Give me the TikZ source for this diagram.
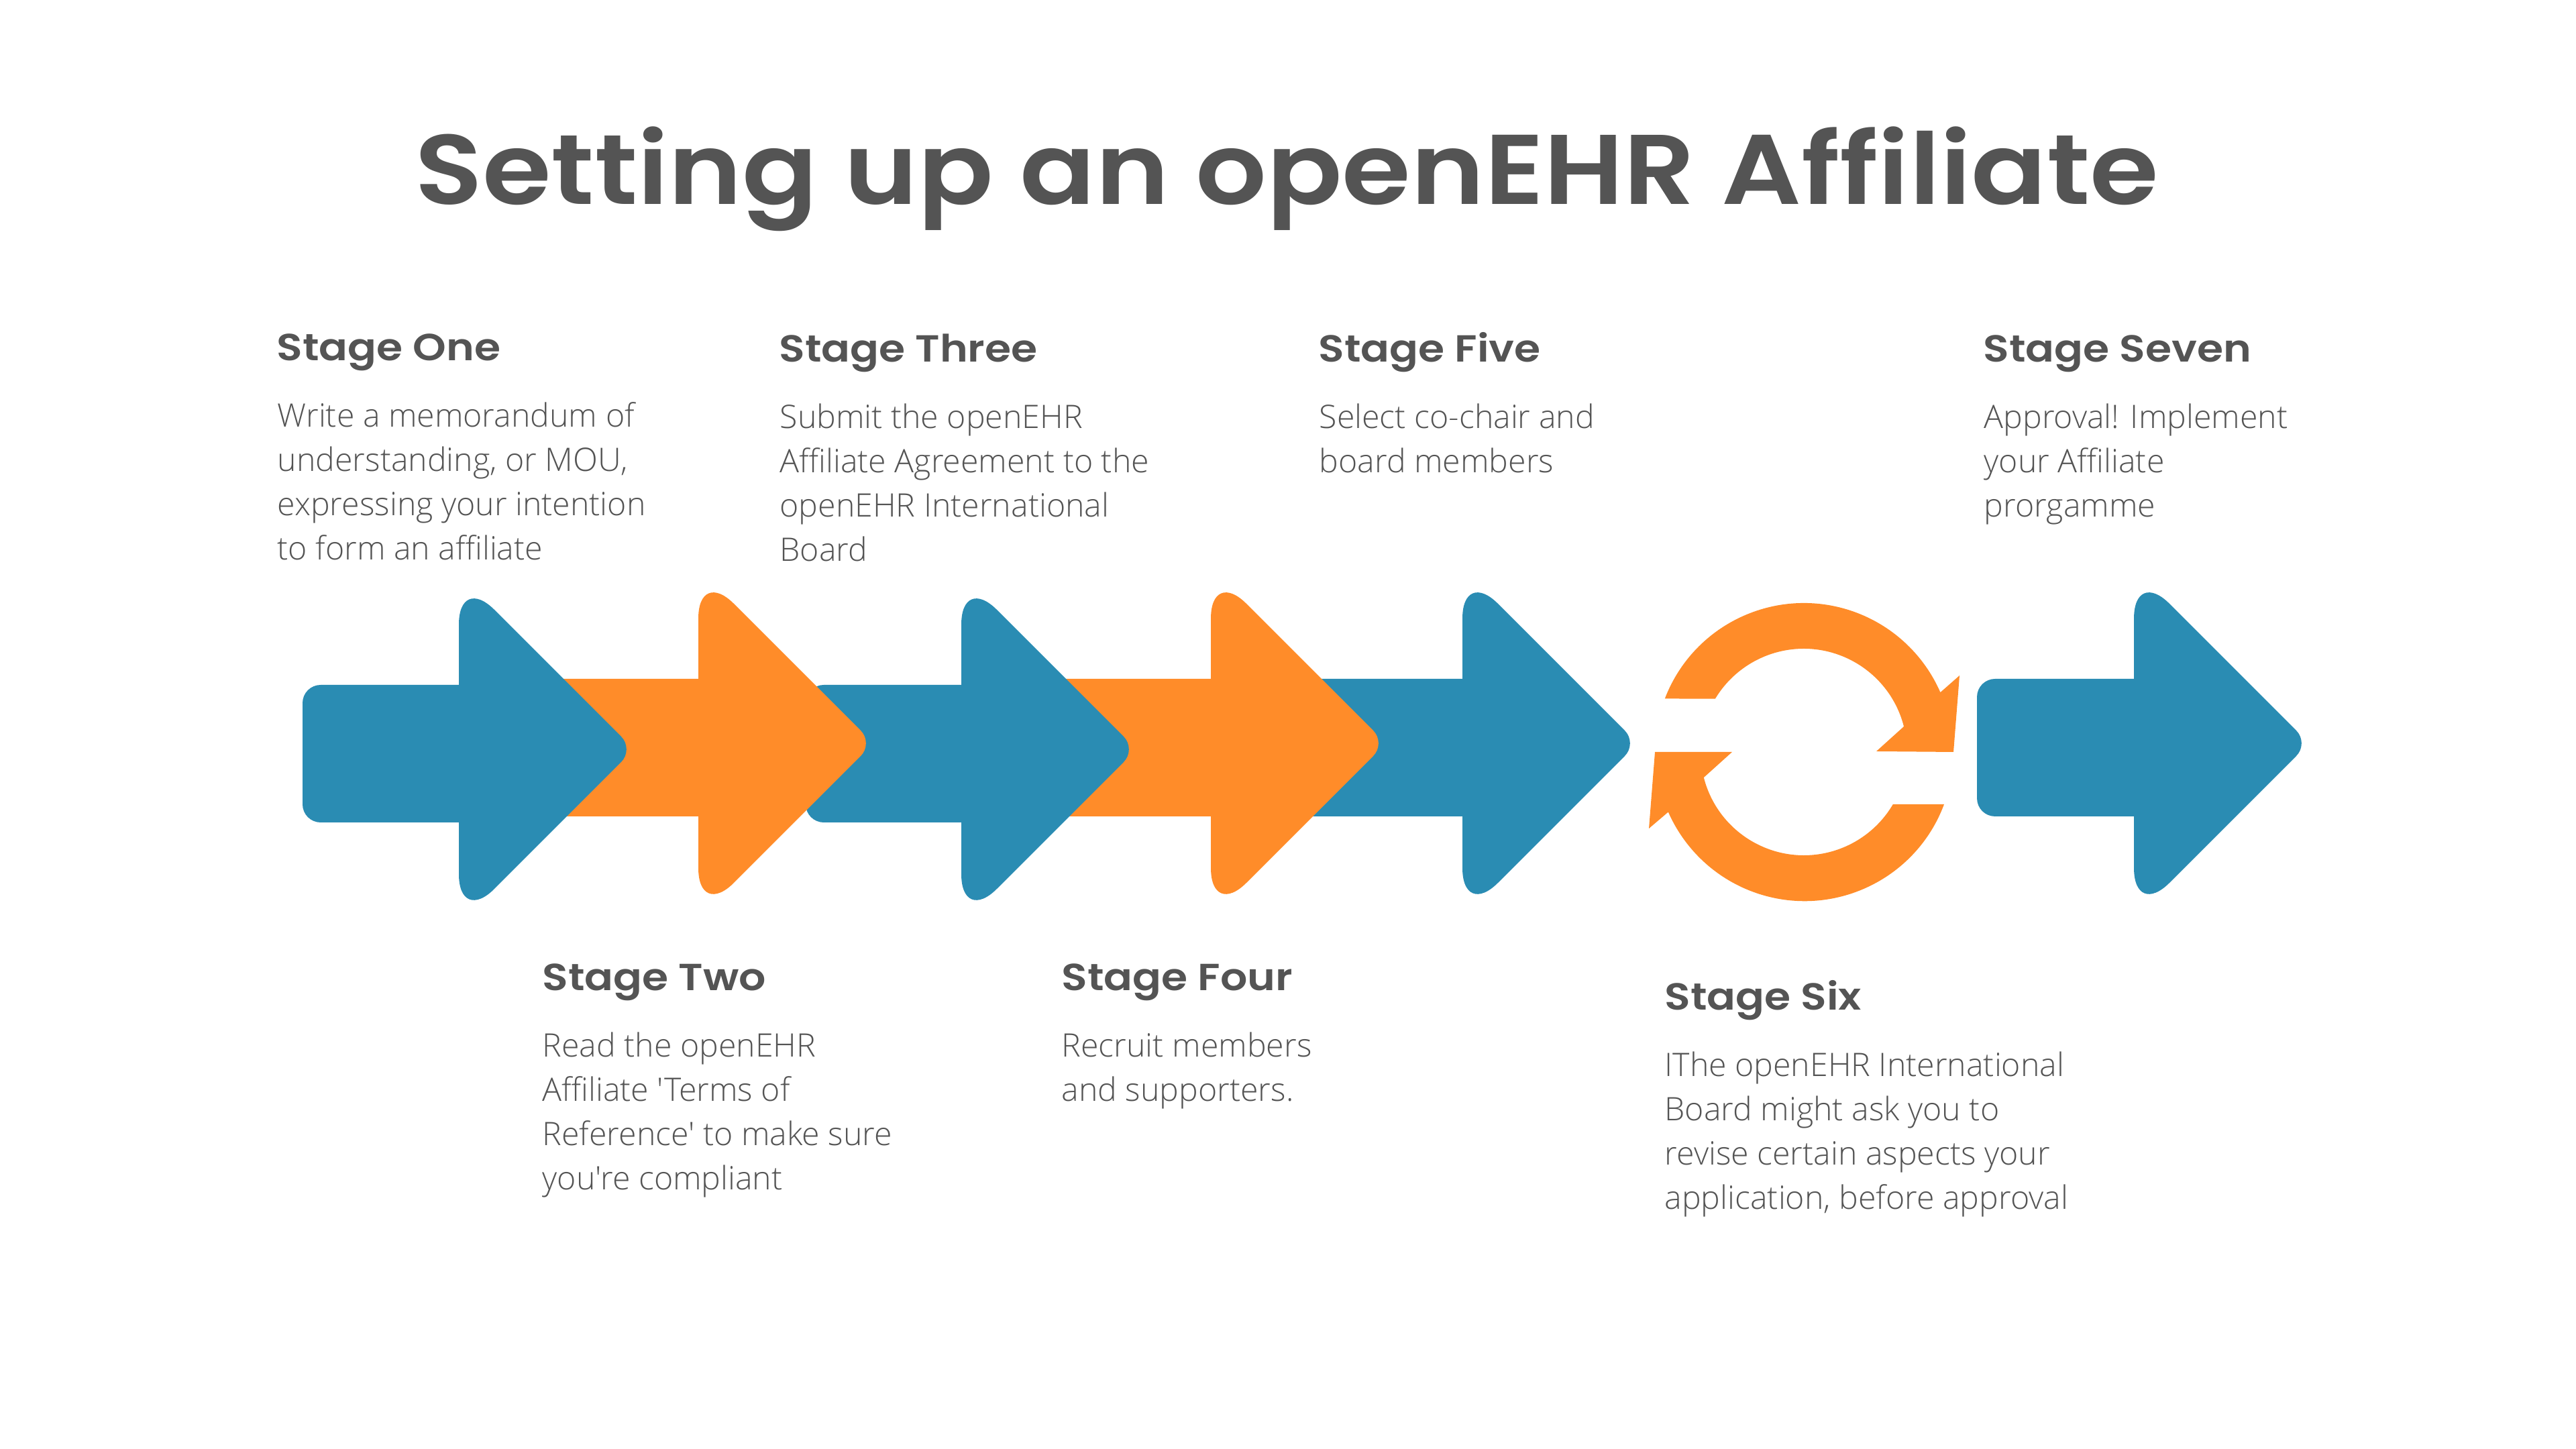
\documentclass[tikz,border=0pt]{standalone}
\usepackage{fontspec}
\newfontfamily\bodyfont{Open Sans Light}
\newfontfamily\headfont[FakeStretch=1.125]{Poppins SemiBold}
\begin{document}
\begin{tikzpicture}[
	titletxt/.style={anchor=base, inner sep=0pt, text=inkgray, font=\headfont\fontsize{42}{48}\selectfont},
	stagehead/.style={anchor=base west, inner sep=0pt, text=inkgray, font=\headfont\fontsize{16}{18}\selectfont},
	stagebody/.style={anchor=north west, inner sep=0pt, align=left, text=inkgray, font=\bodyfont\fontsize{13.72}{18.78}\selectfont}]
	\definecolor{inkgray}{RGB}{84, 84, 84}
	\definecolor{tealblue}{RGB}{42, 140, 179}
	\definecolor{brightorange}{RGB}{255, 140, 41}
	\useasboundingbox (0,0) rectangle (38.4,21.6);
	\node[titletxt] (title) at (19.18,18.55) {Setting up an openEHR Affiliate};
	% arrows from last to first, each one lies over the next
	\foreach \start/\back/\mid/\col in {29.47/31.81/10.52/tealblue, 19.00/21.80/10.52/tealblue, 15.00/18.05/10.52/brightorange, 12.01/14.33/10.43/tealblue, 8.00/10.41/10.52/brightorange, 4.51/6.84/10.43/tealblue} {
		\fill[\col, rounded corners=.27cm] (\start,\mid+.96) rectangle (\back+.5,\mid-1.09);
		\fill[\col] (\back,\mid) [rounded corners=.75cm] -- (\back,\mid+2.61) [rounded corners=.27cm] -- (\back+2.61,\mid) [rounded corners=.75cm] -- (\back,\mid-2.61) -- cycle;
	}
	\coordinate (turn) at (26.89,10.39);
	\fill[brightorange] (turn) ++(159:2.22) arc[start angle=159, end angle=23.6, radius=2.22] -- (29.21,11.53) -- (29.12,10.39) -- (27.97,10.40) -- (28.38,10.77) arc[start angle=14.3, end angle=149, radius=1.54] -- cycle;
	\fill[brightorange] (turn) ++(194.3:1.54) arc[start angle=194.3, end angle=329.6, radius=1.54] -- (28.98,9.61) arc[start angle=339.5, end angle=203.7, radius=2.22] -- (24.58,9.25) -- (24.67,10.39) -- (25.82,10.39) -- cycle;
	\node[stagehead] (oneh) at (4.12,16.22) {Stage One};
	\node[stagebody] (oneb) at (4.13,15.61) {Write a memorandum of\\understanding, or MOU,\\expressing your intention\\to form an affiliate};
	\node[stagehead] (threeh) at (11.61,16.20) {Stage Three};
	\node[stagebody] (threeb) at (11.62,15.59) {Submit the openEHR\\Affiliate Agreement to the\\openEHR International\\Board};
	\node[stagehead] (fiveh) at (19.65,16.20) {Stage Five};
	\node[stagebody] (fiveb) at (19.66,15.59) {Select co-chair and\\board members};
	\node[stagehead] (sevenh) at (29.56,16.20) {Stage Seven};
	\node[stagebody] (sevenb) at (29.57,15.59) {Approval! Implement\\your Affiliate\\prorgamme};
	\node[stagehead] (twoh) at (8.08,6.83) {Stage Two};
	\node[stagebody] (twob) at (8.08,6.22) {Read the openEHR\\Affiliate 'Terms of\\Reference' to make sure\\you're compliant};
	\node[stagehead] (fourh) at (15.82,6.83) {Stage Four};
	\node[stagebody] (fourb) at (15.82,6.22) {Recruit members\\and supporters.};
	\node[stagehead] (sixh) at (24.81,6.54) {Stage Six};
	\node[stagebody] (sixb) at (24.81,5.93) {IThe openEHR International\\Board might ask you to\\revise certain aspects your\\application, before approval};
\end{tikzpicture}
\end{document}
